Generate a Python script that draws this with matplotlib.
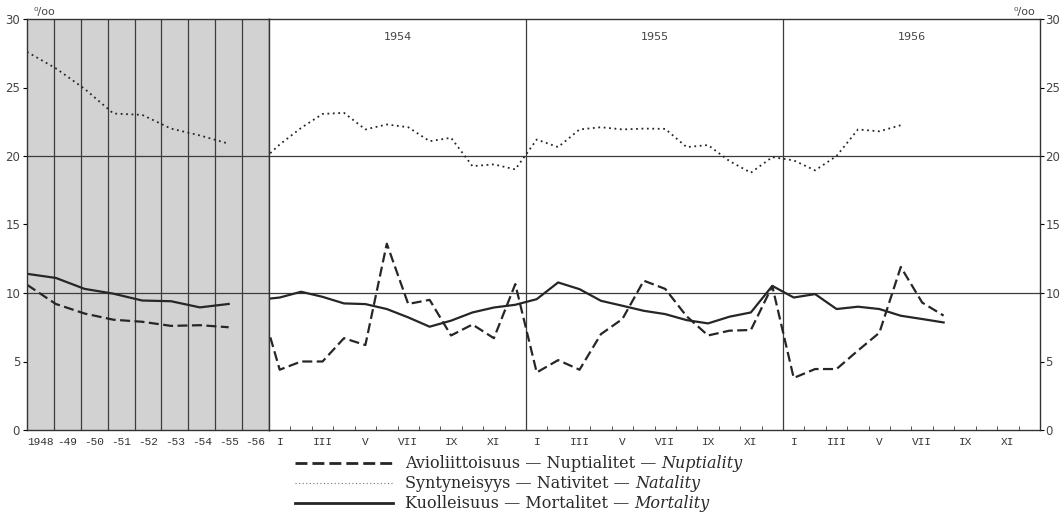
import numpy as np
import matplotlib.pyplot as plt
from matplotlib.lines import Line2D

# --- annual averages (shaded part) ---
ann_labels = ['1948', '-49', '-50', '-51', '-52', '-53', '-54', '-55', '-56']
ann_nupt = [10.6, 9.2, 8.5, 8.05, 7.9, 7.6, 7.65, 7.5]
ann_nat = [27.6, 26.4, 24.9, 23.1, 23.0, 22.0, 21.5, 20.9]
ann_mort = [11.4, 11.1, 10.3, 9.95, 9.45, 9.4, 8.95, 9.2]

# --- monthly values, first value = XII 1953 ---
years = ['1954', '1955', '1956']
month_labels = ['I', 'III', 'V', 'VII', 'IX', 'XI']
nupt_m = [9.8, 4.4, 5.0, 5.0, 6.7, 6.2, 13.6, 9.2, 9.5, 6.9, 7.7, 6.7, 10.65,
          4.2, 5.1, 4.4, 7.0, 8.1, 10.9, 10.3, 8.3, 6.9, 7.25, 7.3, 10.5,
          3.8, 4.45, 4.45, 5.8, 7.1, 11.9, 9.3, 8.35]
nat_m = [19.4, 20.84, 22.05, 23.07, 23.15, 21.94, 22.3, 22.1, 21.08, 21.33, 19.26, 19.39, 19.02,
         21.2, 20.65, 21.94, 22.1, 21.94, 22.0, 21.98, 20.65, 20.8, 19.63, 18.78, 19.92,
         19.68, 18.95, 20.0, 21.94, 21.8, 22.25]
mort_m = [9.5, 9.67, 10.09, 9.72, 9.24, 9.19, 8.83, 8.22, 7.54, 7.98, 8.58, 8.94, 9.14,
          9.55, 10.77, 10.28, 9.43, 9.07, 8.7, 8.46, 8.02, 7.78, 8.27, 8.58, 10.52,
          9.67, 9.92, 8.83, 9.0, 8.83, 8.34, 8.1, 7.85]

ink = '#262626'
grid = '#3c3c3c'
dash = (0, (4.5, 2.0))
dots = (0, (1, 2))

W, H = 1060, 530
fig = plt.figure(figsize=(W / 100, H / 100), dpi=100)
fig.patch.set_facecolor('white')

ax_a = fig.add_axes([27 / W, 100 / H, 242 / W, 411 / H])
ax_m = fig.add_axes([269 / W, 100 / H, 771 / W, 411 / H])

# annual panel
ax_a.set_facecolor('#d2d2d2')
ax_a.set_xlim(0, 9)
ax_a.set_ylim(0, 30)
for k in range(1, 9):
    ax_a.axvline(k, color=grid, lw=0.9)
for v in (10, 20):
    ax_a.axhline(v, color=grid, lw=0.9)
xa = np.linspace(0, 7.5, len(ann_nat))
ax_a.plot(xa, ann_nupt, color=ink, lw=1.6, linestyle=dash)
ax_a.plot(xa, ann_nat, color=ink, lw=1.3, linestyle=dots)
ax_a.plot(xa, ann_mort, color=ink, lw=1.6)
ax_a.set_xticks(np.arange(9) + 0.5)
ax_a.set_xticklabels(ann_labels, family='Liberation Mono', fontsize=8, color='#333333')
ax_a.tick_params(axis='x', length=0, pad=5)
ax_a.set_yticks(range(0, 31, 5))
ax_a.tick_params(axis='y', direction='out', length=3, labelsize=8.5, labelcolor='#444444', pad=2)

# monthly panel
ax_m.set_xlim(0, 36)
ax_m.set_ylim(0, 30)
for k in (12, 24):
    ax_m.axvline(k, color=grid, lw=0.9)
for v in (10, 20):
    ax_m.axhline(v, color=grid, lw=0.9)
ax_m.plot(np.arange(len(nupt_m)) - 0.5, nupt_m, color=ink, lw=1.6, linestyle=dash)
ax_m.plot(np.arange(len(nat_m)) - 0.5, nat_m, color=ink, lw=1.3, linestyle=dots)
ax_m.plot(np.arange(len(mort_m)) - 0.5, mort_m, color=ink, lw=1.6)
for i, y in enumerate(years):
    ax_m.text(12 * i + 6, 28.7, y, ha='center', va='center', fontsize=8, color='#444444')

ax_m.set_xticks([12 * i + 2 * j + 0.5 for i in range(3) for j in range(6)])
ax_m.set_xticklabels(month_labels * 3, family='Liberation Mono', fontsize=8, color='#333333')
ax_m.set_xticks(range(1, 36), minor=True)
ax_m.tick_params(axis='x', which='major', length=0, pad=5)
ax_m.tick_params(axis='x', which='minor', direction='in', length=3, color=grid)
ax_m.yaxis.tick_right()
ax_m.set_yticks(range(0, 31, 5))
ax_m.tick_params(axis='y', direction='out', length=3, labelsize=8.5, labelcolor='#444444', pad=1)

for ax in (ax_a, ax_m):
    for s in ax.spines.values():
        s.set_color('#333333')
        s.set_linewidth(1.0)

fig.text(33 / W, 1 - 12 / H, '⁰/oo', fontsize=8, color='#444444', va='center')
fig.text(1013 / W, 1 - 12 / H, '⁰/oo', fontsize=8, color='#444444', va='center')

# legend
legend_rows = [
    ('Avioliittoisuus — Nuptialitet — ', 'Nuptiality', dict(lw=2.0, linestyle=(0, (4.3, 1.8)))),
    ('Syntyneisyys — Nativitet — ', 'Natality', dict(lw=0.8, linestyle=(0, (1, 2.2)), color='#777777')),
    ('Kuolleisuus — Mortalitet — ', 'Mortality', dict(lw=2.0)),
]
for r, (plain, ital, style) in enumerate(legend_rows):
    yy = 1 - (463 + 20 * r) / H
    kw = dict(color=ink)
    kw.update(style)
    fig.add_artist(Line2D([295 / W, 393 / W], [yy, yy], **kw))
    t = fig.text(405 / W, yy, plain, family='DejaVu Serif', fontsize=11.5,
                 color='#2a2a2a', va='center')
    ax_m.annotate(ital, xy=(1, 0), xycoords=t, va='bottom', ha='left',
                  family='DejaVu Serif', style='italic', fontsize=11.5,
                  color='#2a2a2a', annotation_clip=False)

fig.savefig('out.png', dpi=100)
